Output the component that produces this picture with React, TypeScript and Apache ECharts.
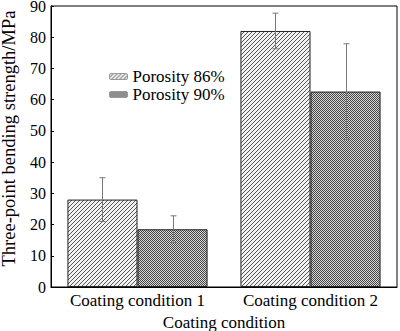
import React, { useEffect, useRef } from "react";
import * as echarts from "echarts";

const categories = ["Coating condition 1", "Coating condition 2"];
const seriesNames = ["Porosity 86%", "Porosity 90%"];
const values86 = [28, 82];
const err86 = [7, 5.7];
const values90 = [18.5, 62.6];
const err90 = [4.3, 15.3];
const yTicks = { min: 0, max: 90, interval: 10 };

const GAP = 0.19;
const FONT = "Liberation Serif, Times New Roman, serif";

function hatchPattern(): HTMLCanvasElement {
  const c = document.createElement("canvas");
  c.width = 4;
  c.height = 4;
  const ctx = c.getContext("2d")!;
  ctx.fillStyle = "#f2f2f2";
  ctx.fillRect(0, 0, 4, 4);
  ctx.fillStyle = "#555";
  for (let i = 0; i < 4; i++) {
    ctx.fillRect(i, 3 - i, 1, 1);
  }
  return c;
}

function checkPattern(): HTMLCanvasElement {
  const c = document.createElement("canvas");
  c.width = 2;
  c.height = 2;
  const ctx = c.getContext("2d")!;
  ctx.fillStyle = "#d8d8d8";
  ctx.fillRect(0, 0, 2, 2);
  ctx.fillStyle = "#444";
  ctx.fillRect(0, 0, 1, 1);
  ctx.fillRect(1, 1, 1, 1);
  return c;
}

function errSeries(values: number[], errs: number[], idx: number) {
  return {
    type: "custom",
    z: 10,
    silent: true,
    data: values.map((v, i) => [i, v - errs[i], v + errs[i]]),
    encode: { x: 0, y: [1, 2] },
    renderItem: (_params: any, api: any) => {
      const cat = api.value(0);
      const lo = api.value(1);
      const hi = api.value(2);
      const band = api.size([1, 0])[0];
      const bw = (band * (1 - GAP)) / 2;
      const offset = idx === 0 ? -bw / 2 : bw / 2;
      const pLo = api.coord([cat, lo]);
      const pHi = api.coord([cat, hi]);
      const x = Math.round(pLo[0] + offset) + 0.5;
      const cap = 3;
      const style = { stroke: "#777", lineWidth: 1 };
      return {
        type: "group",
        children: [
          { type: "line", shape: { x1: x, y1: pLo[1], x2: x, y2: pHi[1] }, style },
          { type: "line", shape: { x1: x - cap, y1: pLo[1], x2: x + cap, y2: pLo[1] }, style },
          { type: "line", shape: { x1: x - cap, y1: pHi[1], x2: x + cap, y2: pHi[1] }, style },
        ],
      };
    },
  };
}

export default function App() {
  const ref = useRef<HTMLDivElement>(null);
  useEffect(() => {
    if (!ref.current) return;
    const chart = echarts.init(ref.current, null, { renderer: "svg" });
    const p1 = { image: hatchPattern(), repeat: "repeat" };
    const p2 = { image: checkPattern(), repeat: "repeat" };
    const txt = { fontFamily: FONT, color: "#000" };
    chart.setOption({
      animation: false,
      backgroundColor: "#fff",
      textStyle: { fontFamily: FONT },
      grid: {
        left: 51,
        right: 3,
        top: 6,
        bottom: 44,
        outerBoundsMode: "none",
        containLabel: false,
        show: true,
        borderColor: "#000",
        borderWidth: 1,
      },
      legend: {
        left: 104,
        top: 63,
        orient: "vertical",
        itemWidth: 18,
        itemHeight: 6,
        itemGap: 1,
        itemStyle: { borderColor: "#999", borderWidth: 1 },
        formatter: "{t|{name}}",
        textStyle: {
          ...txt,
          fontSize: 17,
          rich: { t: { fontFamily: FONT, fontSize: 17, color: "#000", lineHeight: 18 } },
        },
        data: seriesNames,
      },
      xAxis: {
        type: "category",
        data: categories,
        name: "Coating condition",
        nameLocation: "middle",
        nameGap: 21,
        nameTextStyle: { ...txt, fontSize: 17 },
        axisLine: { lineStyle: { color: "#000" } },
        axisTick: { show: false },
        axisLabel: { ...txt, fontSize: 17, margin: 5, interval: 0 },
      },
      yAxis: {
        type: "value",
        min: yTicks.min,
        max: yTicks.max,
        interval: yTicks.interval,
        name: "Three-point bending strength/MPa",
        nameLocation: "middle",
        nameGap: 33,
        nameTextStyle: { ...txt, fontSize: 18.5, padding: [0, 0, 0, 16] },
        axisLine: { show: true, lineStyle: { color: "#000" } },
        axisTick: { show: true, inside: true, length: 3, lineStyle: { color: "#000" } },
        axisLabel: { ...txt, fontSize: 16, margin: 5 },
        splitLine: { show: false },
      },
      series: [
        {
          name: seriesNames[0],
          type: "bar",
          data: values86,
          barGap: "0%",
          barCategoryGap: "19%",
          itemStyle: { color: p1, borderColor: "#222", borderWidth: 1 },
        },
        {
          name: seriesNames[1],
          type: "bar",
          data: values90,
          barGap: "0%",
          barCategoryGap: "19%",
          itemStyle: { color: p2, borderColor: "#222", borderWidth: 1 },
        },
        errSeries(values86, err86, 0),
        errSeries(values90, err90, 1),
      ],
    });
    return () => chart.dispose();
  }, []);
  return (
    <div
      ref={ref}
      style={{ position: "fixed", left: 0, top: 0, width: 400, height: 331 }}
    />
  );
}
